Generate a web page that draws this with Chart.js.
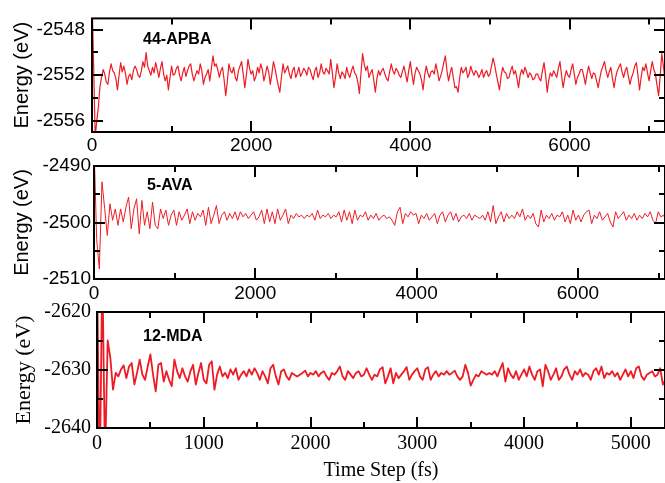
<!DOCTYPE html>
<html>
<head>
<meta charset="utf-8">
<title>Energy vs time step</title>
<script src="https://cdn.jsdelivr.net/npm/chart.js@4.4.1/dist/chart.umd.min.js"></script>
<style>
  html, body { margin: 0; padding: 0; background: #fff; }
  #wrap { position: relative; width: 665px; height: 483px; overflow: hidden; }
  #wrap canvas { position: absolute; left: 0; top: 0; }
</style>
</head>
<body>
<div id="wrap">
  <canvas id="apbaChart" width="665" height="483"></canvas>
  <canvas id="avaChart" width="665" height="483"></canvas>
  <canvas id="mdaChart" width="665" height="483"></canvas>
</div>
<script>
const LINE_RED = '#ed1c24';
const SANS = '"Liberation Sans", Arial, sans-serif';
const SERIF = '"Liberation Serif", "Times New Roman", serif';

// 44-APBA, one sample every 20 fs
const APBA_STEP = 20;
const apbaEnergy = [
  -2545.0, -2551.0, -2557.5, -2556.0, -2554.8, -2553.0, -2552.2, -2551.5, -2551.9, -2552.6,
  -2552.8, -2551.7, -2551.0, -2551.6, -2551.8, -2552.3, -2553.3, -2552.0, -2550.9, -2551.7,
  -2551.2, -2551.8, -2552.8, -2552.1, -2551.9, -2552.4, -2551.6, -2551.2, -2551.5, -2552.0,
  -2552.2, -2551.6, -2550.8, -2551.3, -2550.0, -2551.2, -2551.6, -2552.0, -2551.3, -2551.8,
  -2550.9, -2551.5, -2552.2, -2551.4, -2550.8, -2551.9, -2552.5, -2552.0, -2553.3, -2552.2,
  -2551.2, -2552.0, -2551.9, -2551.4, -2551.2, -2552.0, -2552.5, -2551.8, -2551.3, -2552.1,
  -2551.6, -2551.2, -2551.0, -2551.9, -2552.5, -2552.0, -2551.6, -2551.9, -2551.0, -2551.6,
  -2552.8, -2552.2, -2551.9, -2551.5, -2552.5, -2551.4, -2550.3, -2551.2, -2551.0, -2551.5,
  -2552.2, -2551.6, -2551.3, -2552.4, -2553.8, -2552.6, -2551.0, -2551.6, -2551.8, -2551.3,
  -2552.2, -2552.5, -2551.6, -2551.2, -2550.8, -2551.9, -2553.1, -2552.0, -2550.6, -2551.4,
  -2551.9, -2551.6, -2552.5, -2552.1, -2551.3, -2551.8, -2551.0, -2551.5, -2552.5, -2551.9,
  -2551.2, -2551.7, -2552.8, -2551.9, -2550.8, -2551.4, -2552.2, -2552.9, -2553.5, -2552.2,
  -2551.0, -2551.8, -2551.5, -2551.2, -2551.9, -2552.3, -2551.6, -2551.3, -2552.2, -2551.8,
  -2551.3, -2552.1, -2551.8, -2551.4, -2551.6, -2552.0, -2551.3, -2551.5, -2552.0, -2552.4,
  -2551.6, -2551.3, -2552.2, -2551.8, -2551.0, -2551.7, -2551.9, -2551.4, -2551.6, -2551.9,
  -2550.6, -2551.8, -2553.1, -2552.2, -2551.0, -2551.8, -2552.3, -2551.7, -2551.9, -2552.3,
  -2551.3, -2551.9, -2552.2, -2551.6, -2551.2, -2551.8, -2552.0, -2552.6, -2553.6, -2551.8,
  -2550.1, -2551.0, -2551.6, -2551.2, -2552.2, -2551.8, -2551.5, -2552.4, -2553.5, -2552.3,
  -2551.6, -2552.0, -2551.6, -2551.4, -2551.9, -2552.3, -2552.5, -2551.7, -2551.0, -2551.6,
  -2551.9, -2551.4, -2551.6, -2552.0, -2552.2, -2551.7, -2551.2, -2551.9, -2552.6, -2551.6,
  -2550.8, -2551.9, -2552.8, -2551.8, -2551.3, -2551.6, -2551.9, -2552.4, -2553.3, -2552.0,
  -2551.2, -2551.8, -2552.2, -2551.7, -2551.6, -2551.9, -2551.0, -2551.6, -2552.5, -2552.1,
  -2551.6, -2550.9, -2550.3, -2551.6, -2552.5, -2551.8, -2551.3, -2552.2, -2553.1, -2553.0,
  -2553.5, -2552.2, -2551.3, -2551.8, -2551.6, -2551.3, -2552.2, -2551.9, -2551.2, -2551.7,
  -2552.0, -2551.6, -2551.8, -2552.2, -2551.9, -2551.5, -2552.2, -2551.8, -2551.6, -2552.1,
  -2551.9, -2551.2, -2550.5, -2551.1, -2551.9, -2552.6, -2553.3, -2552.1, -2551.3, -2551.7,
  -2551.8, -2552.3, -2552.2, -2551.6, -2551.2, -2551.9, -2551.6, -2552.3, -2553.1, -2552.0,
  -2551.5, -2551.9, -2551.3, -2551.7, -2552.2, -2551.8, -2552.0, -2552.4, -2552.3, -2551.9,
  -2551.9, -2552.3, -2552.5, -2551.6, -2550.9, -2552.0, -2553.5, -2552.4, -2551.8, -2552.1,
  -2551.6, -2551.9, -2552.2, -2551.4, -2550.8, -2552.0, -2553.1, -2552.2, -2551.6, -2552.0,
  -2552.2, -2551.5, -2551.0, -2551.9, -2552.8, -2552.2, -2551.9, -2551.5, -2551.5, -2552.1,
  -2552.8, -2551.9, -2551.2, -2551.8, -2552.3, -2551.8, -2551.9, -2552.5, -2553.1, -2552.3,
  -2551.6, -2551.2, -2550.8, -2551.6, -2552.2, -2551.7, -2551.3, -2552.3, -2553.1, -2552.2,
  -2551.6, -2551.3, -2551.0, -2551.7, -2552.2, -2551.6, -2551.3, -2552.1, -2552.8, -2552.2,
  -2551.8, -2551.2, -2550.9, -2552.0, -2553.3, -2552.2, -2551.3, -2551.6, -2551.0, -2551.8,
  -2552.5, -2551.6, -2550.8, -2551.5, -2551.9, -2552.9, -2553.8, -2552.0, -2550.1, -2551.2,
  -2552.5
];
const apbaXTicks = [0, 2000, 4000, 6000];
const apbaYTicks = [-2556, -2552, -2548];

// 5-AVA, one sample every 33 fs
const AVA_STEP = 33;
const avaEnergy = [
  -2486.0, -2503.0, -2508.2, -2492.8, -2497.5, -2502.3,
  -2496.7, -2499.6, -2497.6, -2500.5, -2497.6, -2499.9, -2497.3, -2495.5, -2501.1, -2497.6,
  -2495.8, -2502.0, -2496.1, -2500.5, -2498.1, -2501.1, -2496.4, -2500.5, -2501.1, -2497.6,
  -2499.3, -2497.8, -2500.5, -2498.7, -2497.8, -2500.5, -2498.1, -2499.6, -2498.7, -2497.6,
  -2500.2, -2498.1, -2499.6, -2498.4, -2499.0, -2497.8, -2500.5, -2497.3, -2500.2, -2498.7,
  -2497.0, -2500.2, -2498.7, -2498.1, -2499.6, -2498.4, -2499.3, -2498.1, -2499.6, -2498.1,
  -2499.0, -2498.4, -2499.3, -2498.7, -2498.1, -2499.6, -2499.0, -2497.8, -2500.2, -2497.6,
  -2499.9, -2498.1, -2500.2, -2497.6, -2499.6, -2498.7, -2497.6, -2500.2, -2498.7, -2499.3,
  -2498.4, -2499.0, -2498.7, -2499.3, -2498.7, -2499.0, -2498.4, -2499.6, -2497.8, -2499.3,
  -2498.7, -2499.0, -2498.4, -2499.3, -2498.7, -2499.0, -2498.1, -2499.9, -2497.8, -2499.6,
  -2498.1, -2500.2, -2497.8, -2499.6, -2498.7, -2499.0, -2498.1, -2499.6, -2498.7, -2499.3,
  -2498.4, -2499.6,
  -2499.0, -2498.7, -2499.3, -2499.0, -2499.6, -2500.5, -2498.1, -2497.3, -2500.2, -2498.4,
  -2499.0, -2498.1, -2498.7, -2498.4, -2500.2, -2498.7, -2499.3, -2498.4, -2499.6, -2499.0,
  -2498.4, -2500.2, -2498.7, -2498.1, -2499.9, -2498.7, -2498.1, -2499.6, -2498.4, -2499.9,
  -2499.0, -2498.7, -2499.3, -2498.4, -2499.6, -2498.7, -2499.0, -2499.3, -2498.7, -2499.6,
  -2498.1, -2499.9, -2497.0, -2500.2, -2499.0, -2498.1, -2499.9, -2498.4, -2499.3, -2498.7,
  -2499.3, -2498.1, -2499.0, -2497.6, -2499.6, -2498.7, -2499.3, -2498.4, -2500.2, -2500.8,
  -2497.8, -2499.9, -2498.7, -2499.3, -2498.4, -2499.6, -2498.7, -2499.0, -2498.1, -2499.9,
  -2498.7, -2500.2, -2497.8, -2499.6, -2498.7, -2499.9, -2498.7, -2498.1, -2497.8, -2500.2,
  -2498.7, -2499.3, -2498.1, -2499.6, -2499.0, -2498.4, -2499.9, -2500.8, -2498.1, -2499.3,
  -2498.7, -2498.1, -2499.6, -2498.7, -2499.3, -2498.4, -2499.6, -2498.7, -2499.3, -2498.4,
  -2499.0, -2498.1, -2499.6, -2500.2, -2498.1, -2499.0, -2498.7, -2499.6
];
const avaXTicks = [0, 2000, 4000, 6000];
const avaYTicks = [-2510, -2500, -2490];

// 12-MDA, one sample every 25 fs
const MDA_STEP = 25;
const mdaEnergy = [
  -2612.0, -2650.0, -2612.0, -2646.0, -2624.9, -2627.9, -2633.4,
  -2630.5, -2631.1, -2629.9, -2629.2, -2631.4, -2629.4, -2628.8, -2632.5, -2630.5, -2628.2,
  -2630.8, -2631.7, -2629.4, -2627.3, -2630.8, -2633.7, -2629.1, -2628.8, -2632.0, -2630.2,
  -2631.7, -2632.8, -2628.2, -2630.2, -2631.4, -2629.7, -2631.1, -2632.0, -2630.2, -2629.1,
  -2632.5, -2630.5, -2628.8, -2631.7, -2632.3, -2629.1, -2628.5, -2633.4, -2630.8, -2629.4,
  -2631.1, -2630.5, -2631.4, -2629.9, -2630.8, -2629.7, -2631.7, -2630.8, -2630.2, -2631.1,
  -2629.9, -2630.8, -2629.7, -2630.5, -2631.7, -2630.2, -2631.1, -2632.3, -2629.7, -2629.1,
  -2631.1, -2632.5, -2630.2, -2629.9, -2631.1, -2631.7, -2630.5, -2630.8, -2631.1, -2630.8,
  -2630.5, -2630.1, -2631.1, -2630.5, -2630.8, -2630.2, -2631.1, -2630.5, -2630.2, -2631.1,
  -2631.7, -2630.5, -2630.8, -2630.2, -2629.4, -2631.1, -2631.7, -2630.2, -2630.8, -2631.4,
  -2630.5, -2630.2, -2631.1, -2630.8, -2629.7, -2630.8, -2631.7, -2630.8, -2631.1, -2629.9,
  -2629.5, -2632.3,
  -2631.1, -2629.7, -2632.3, -2630.5, -2631.4, -2630.8, -2630.2, -2629.5, -2631.7, -2630.8,
  -2630.2, -2629.7, -2631.1, -2631.7, -2629.9, -2629.5, -2631.7, -2630.8, -2630.2, -2631.1,
  -2630.5, -2630.8, -2630.2, -2630.8, -2630.5, -2630.1, -2631.1, -2631.7, -2631.1, -2629.1,
  -2630.5, -2632.7, -2631.7, -2630.8, -2631.1, -2630.2, -2630.5, -2630.8, -2630.5, -2630.8,
  -2630.2, -2631.1, -2629.9, -2628.8, -2632.0, -2629.7, -2630.8, -2631.4, -2630.2, -2631.7,
  -2630.8, -2629.9, -2631.1, -2629.4, -2630.8, -2631.7, -2630.2, -2629.9, -2632.8, -2629.1,
  -2630.2, -2631.7, -2630.8, -2629.7, -2631.7, -2631.1, -2629.9, -2629.4, -2630.8, -2631.7,
  -2630.2, -2630.8, -2629.9, -2631.1, -2630.5, -2630.8, -2631.7, -2630.2, -2629.7, -2630.8,
  -2629.4, -2631.4, -2630.5, -2630.8, -2630.2, -2631.1, -2630.5, -2631.7, -2630.8, -2629.9,
  -2631.1, -2630.2, -2631.4, -2629.7, -2629.4, -2631.1, -2631.7, -2630.8, -2630.5, -2630.2,
  -2631.1, -2630.8, -2629.7, -2632.5, -2631.7
];
const mdaXTicks = [0, 1000, 2000, 3000, 4000, 5000];
const mdaYTicks = [-2640, -2630, -2620];

// Box frame with inward major/minor ticks on all four sides, plus the panel name
const framePlugin = {
  id: 'frame',
  afterDraw(chart, _args, opts) {
    const { ctx, chartArea: a, scales: { x, y } } = chart;

    const minorOf = (scale) => {
      const major = scale.ticks.map(t => t.value);
      const step = major[1] - major[0];
      const minor = [];
      for (let v = major[0] - step / 2; v <= scale.max; v += step) {
        if (v >= scale.min) minor.push(v);
      }
      return minor;
    };

    ctx.save();
    ctx.strokeStyle = '#000';
    ctx.lineWidth = 2;
    ctx.strokeRect(a.left, a.top, a.right - a.left, a.bottom - a.top);

    const xMarks = (values, len) => values.forEach(v => {
      const px = Math.round(x.getPixelForValue(v));
      ctx.beginPath();
      ctx.moveTo(px, a.bottom); ctx.lineTo(px, a.bottom - len);
      ctx.moveTo(px, a.top); ctx.lineTo(px, a.top + len);
      ctx.stroke();
    });
    const yMarks = (values, len) => values.forEach(v => {
      const py = Math.round(y.getPixelForValue(v));
      ctx.beginPath();
      ctx.moveTo(a.left, py); ctx.lineTo(a.left + len, py);
      ctx.moveTo(a.right, py); ctx.lineTo(a.right - len, py);
      ctx.stroke();
    });

    xMarks(x.ticks.map(t => t.value), 11);
    xMarks(minorOf(x), 6);
    yMarks(y.ticks.map(t => t.value), 11);
    yMarks(minorOf(y), 6);

    ctx.fillStyle = '#000';
    ctx.font = 'bold 16px ' + SANS;
    ctx.textBaseline = 'middle';
    ctx.textAlign = 'left';
    ctx.fillText(opts.label, a.left + opts.dx, a.top + opts.dy);
    ctx.restore();
  }
};

const makePanel = (canvasId, energies, step, p) => {
  const points = energies.map((e, i) => ({ x: i * step, y: e }));
  const tickFont = { family: p.family, size: p.tickSize };

  return new Chart(document.getElementById(canvasId), {
    type: 'line',
    data: {
      datasets: [{
        data: points,
        borderColor: LINE_RED,
        borderWidth: p.lineWidth,
        pointRadius: 0,
        tension: 0,
        borderJoinStyle: 'round'
      }]
    },
    options: {
      responsive: false,
      animation: false,
      devicePixelRatio: 1,
      layout: { padding: { top: p.top, bottom: p.padBottom, left: 0, right: 0 } },
      plugins: {
        legend: { display: false },
        tooltip: { enabled: false },
        frame: { label: p.label, dx: p.labelDx, dy: p.labelDy }
      },
      scales: {
        x: {
          type: 'linear',
          min: 0,
          max: p.xMax,
          afterBuildTicks: s => { s.ticks = p.xTicks.map(v => ({ value: v })); },
          afterFit: s => { s.height = p.xAxisHeight; },
          grid: { display: false, drawTicks: false },
          border: { display: false },
          ticks: {
            color: '#000', font: tickFont, padding: p.xTickPad,
            maxRotation: 0, autoSkip: false,
            callback: v => String(v)
          },
          title: {
            display: !!p.xTitle,
            text: p.xTitle || '',
            color: '#000',
            font: { family: p.family, size: 20 },
            padding: { top: 0, bottom: 0 }
          }
        },
        y: {
          type: 'linear',
          min: p.yMin,
          max: p.yMax,
          afterBuildTicks: s => { s.ticks = p.yTicks.map(v => ({ value: v })); },
          afterFit: s => { s.width = p.left; },
          grid: { display: false, drawTicks: false },
          border: { display: false },
          ticks: {
            color: '#000', font: tickFont, padding: p.yTickPad,
            callback: v => String(v)
          },
          title: {
            display: true,
            text: 'Energy (eV)',
            color: '#000',
            font: { family: p.family, size: p.yTitleSize },
            padding: { top: p.yTitlePad, bottom: 0 }
          }
        }
      }
    },
    plugins: [framePlugin]
  });
};

window.onload = () => {
  makePanel('apbaChart', apbaEnergy, APBA_STEP, {
    label: '44-APBA', labelDx: 51, labelDy: 21,
    family: SANS, tickSize: 19, yTitleSize: 20, yTitlePad: 10,
    lineWidth: 1.2,
    top: 17, left: 92, xAxisHeight: 30, padBottom: 483 - 132 - 30,
    xMax: 7200, xTicks: apbaXTicks, xTickPad: 2,
    yMin: -2557, yMax: -2547, yTicks: apbaYTicks, yTickPad: 7
  });

  makePanel('avaChart', avaEnergy, AVA_STEP, {
    label: '5-AVA', labelDx: 53, labelDy: 20,
    family: SANS, tickSize: 19, yTitleSize: 20, yTitlePad: 10,
    lineWidth: 1,
    top: 166, left: 94, xAxisHeight: 30, padBottom: 483 - 279 - 30,
    xMax: 7080, xTicks: avaXTicks, xTickPad: 3,
    yMin: -2510, yMax: -2490, yTicks: avaYTicks, yTickPad: 3
  });

  makePanel('mdaChart', mdaEnergy, MDA_STEP, {
    label: '12-MDA', labelDx: 46, labelDy: 25,
    family: SERIF, tickSize: 20, yTitleSize: 22, yTitlePad: 11,
    lineWidth: 1.8,
    top: 312, left: 97, xAxisHeight: 55, padBottom: 0,
    xMax: 5320, xTicks: mdaXTicks, xTickPad: 4,
    xTitle: 'Time Step (fs)',
    yMin: -2640, yMax: -2620, yTicks: mdaYTicks, yTickPad: 6
  });
};
</script>
</body>
</html>
